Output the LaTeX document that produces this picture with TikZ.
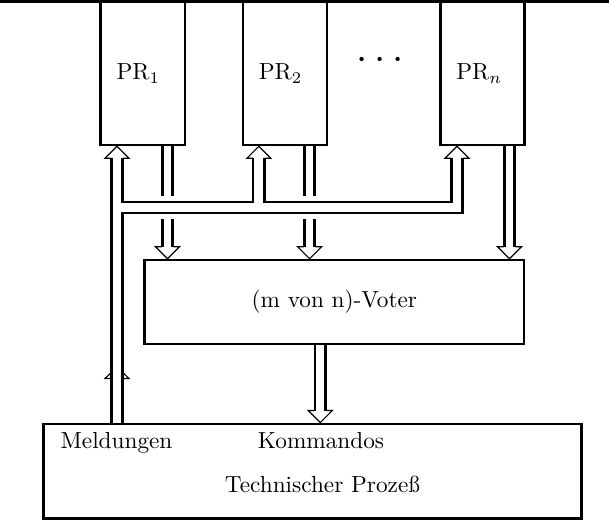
\documentclass[tikz,border=0pt]{standalone}
\usetikzlibrary{calc}

\begin{document}
\begin{tikzpicture}[x=0.43pt, y=-0.43pt,
    prbox/.style={draw, line width=1.1pt, minimum width=36.3pt, minimum height=61.5pt,
        text width=22.5pt, inner xsep=6.9pt, align=left},
    votbox/.style={draw, line width=1.1pt, minimum width=163.1pt, minimum height=36.1pt},
    procbox/.style={draw, line width=1.25pt, minimum width=231.3pt, minimum height=40.6pt},
    wire/.style={line width=1.2pt},
    halo/.style={wire, preaction={draw=white, line width=5.3pt}},
    dbl/.style={line width=1.2pt, double, double distance=3.3pt},
    tipline/.style={line width=0.5pt},
    uphead/.pic={\draw[tipline] (-5.75,12) -- (-12,12) -- (0,0) -- (12,12) -- (5.75,12);},
    midhead/.pic={\draw[tipline] (-5.75,6) -- (-12,6) -- (-5.75,0)
                                 (5.75,6) -- (12,6) -- (5.75,0);}]

% page frame
\useasboundingbox (0,0) rectangle (609,531);
\draw[line width=1.2pt] (0,1.4) -- (609,1.4);

% processors
\node[prbox] (pr1) at (142.75,73.5) {PR$_1$};
\node[prbox] (pr2) at (285,73.5) {PR$_2$};
\node[prbox] (prn) at (482.5,73.5) {PR$_n$};
\node[anchor=base] (dots) at (380,70) {\LARGE$\cdots$};

% voter and process
\node[votbox] (voter) at (334.35,302) {(m von n)-Voter};
\node[procbox] (proc) at (312.7,471.2) {};
\node[anchor=base] (meld) at (116.5,449) {Meldungen};
\node[anchor=base] (komm) at (321,449) {Kommandos};
\node[anchor=base] (tp) at (322.5,493) {Technischer Prozeß};

% columns of the arrows and levels of the bus
\coordinate (ia) at (117,0);
\coordinate (ib) at (258.8,0);
\coordinate (ic) at (457,0);
\coordinate (oa) at (167.5,0);
\coordinate (ob) at (309.6,0);
\coordinate (oc) at (509.5,0);
\coordinate (cmd) at (320.3,0);
\coordinate (busa) at (0,202);
\coordinate (busb) at (0,213);

% results to the voter
\draw[dbl] (pr1.south -| oa) -- ($(voter.north -| oa)+(0,-12)$);
\draw[dbl] (pr2.south -| ob) -- ($(voter.north -| ob)+(0,-12)$);
\draw[dbl] (prn.south -| oc) -- ($(voter.north -| oc)+(0,-12)$);
\pic[rotate=180] at (voter.north -| oa) {uphead};
\pic[rotate=180] at (voter.north -| ob) {uphead};
\pic[rotate=180] at (voter.north -| oc) {uphead};

% commands to the process
\draw[dbl] (voter.south -| cmd) -- ($(proc.north -| cmd)+(0,-12)$);
\pic[rotate=180] at (proc.north -| cmd) {uphead};

% messages back to the processors
\draw[wire] ($(proc.north -| ia)+(-5.75,0)$) -- ($(pr1.south -| ia)+(-5.75,12)$);
\draw[halo] ($(pr1.south -| ia)+(5.75,12)$) |- ($(busa -| ib)+(-5.75,0)$)
    -- ($(pr2.south -| ib)+(-5.75,12)$);
\draw[halo] ($(pr2.south -| ib)+(5.75,12)$) |- ($(busa -| ic)+(-5.75,0)$)
    -- ($(prn.south -| ic)+(-5.75,12)$);
\draw[halo] ($(prn.south -| ic)+(5.75,12)$) |- ($(busb -| ia)+(5.75,0)$)
    -- ($(proc.north -| ia)+(5.75,0)$);
\pic at (pr1.south -| ia) {uphead};
\pic at (pr2.south -| ib) {uphead};
\pic at (prn.south -| ic) {uphead};
\pic at ($(proc.north -| ia)+(0,-50)$) {midhead};

\end{tikzpicture}
\end{document}
